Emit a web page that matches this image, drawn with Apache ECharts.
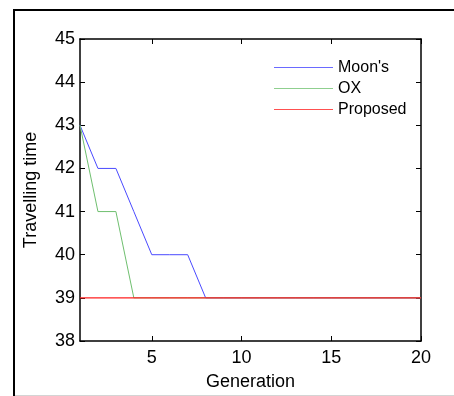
<!DOCTYPE html>
<html>
<head>
<meta charset="utf-8">
<script src="https://cdn.jsdelivr.net/npm/echarts@6/dist/echarts.min.js"></script>
<style>
  html, body { margin: 0; padding: 0; background: #fff; overflow: hidden; }
  #chart { position: absolute; left: 0; top: 0; width: 454px; height: 396px; }
</style>
</head>
<body>
<div id="chart"></div>
<script>
// 数据
const generations = [1, 2, 3, 4, 5, 6, 7, 8, 9, 10, 11, 12, 13, 14, 15, 16, 17, 18, 19, 20]
const moonValues = [43, 42, 42, 41, 40, 40, 40, 39, 39, 39, 39, 39, 39, 39, 39, 39, 39, 39, 39, 39]
const oxValues = [43, 41, 41, 39, 39, 39, 39, 39, 39, 39, 39, 39, 39, 39, 39, 39, 39, 39, 39, 39]
const proposedValues = [39, 39, 39, 39, 39, 39, 39, 39, 39, 39, 39, 39, 39, 39, 39, 39, 39, 39, 39, 39]
const xTicks = [5, 10, 15, 20]
const yTicks = [38, 39, 40, 41, 42, 43, 44, 45]

const font = 'Liberation Sans, Arial, sans-serif'
const pairs = vals => generations.map((g, i) => [g, vals[i]])
const legendLine = 'path://M0,6.5L59,6.5L59,7.7L0,7.7Z'

const chart = echarts.init(document.getElementById('chart'))

const tickStyle = { show: true, inside: true, length: 5, lineStyle: { color: '#000', width: 1 } }

chart.setOption({
  animation: false,
  backgroundColor: '#fff',
  // 外框
  graphic: [
    { type: 'rect', shape: { x: 13, y: 9, width: 441, height: 2 }, style: { fill: '#000' }, z: 100 },
    { type: 'rect', shape: { x: 13, y: 9, width: 2, height: 387 }, style: { fill: '#000' }, z: 100 },
    { type: 'rect', shape: { x: 15, y: 395, width: 439, height: 1 }, style: { fill: '#d4d4d4' }, z: 100 }
  ],
  grid: { left: 80, right: 33, top: 39, bottom: 52 },
  legend: {
    left: 269,
    top: 54,
    orient: 'vertical',
    itemWidth: 59,
    itemHeight: 14,
    itemGap: 4,
    textStyle: { fontFamily: font, fontSize: 16, color: '#000', lineHeight: 17 },
    data: [
      { name: "Moon's", icon: legendLine, itemStyle: { color: '#6a6aff' } },
      { name: 'OX', icon: legendLine, itemStyle: { color: '#8fcf8f' } },
      { name: 'Proposed', icon: legendLine, itemStyle: { color: '#ff5050' } }
    ]
  },
  xAxis: [
    {
      type: 'value',
      min: 1,
      max: 20,
      name: 'Generation',
      nameLocation: 'middle',
      nameGap: 32,
      nameTextStyle: { fontFamily: font, fontSize: 18, color: '#000' },
      axisLine: { show: true, lineStyle: { color: '#000', width: 1.5 } },
      axisTick: Object.assign({ customValues: xTicks }, tickStyle),
      axisLabel: { customValues: xTicks, fontFamily: font, fontSize: 18, color: '#000', margin: 8 },
      splitLine: { show: false }
    },
    {
      type: 'value',
      min: 1,
      max: 20,
      position: 'top',
      axisLine: { show: true, lineStyle: { color: '#000', width: 1.5 } },
      axisTick: Object.assign({ customValues: xTicks }, tickStyle),
      axisLabel: { show: false },
      splitLine: { show: false }
    }
  ],
  yAxis: [
    {
      type: 'value',
      min: 38,
      max: 45,
      interval: 1,
      name: 'Travelling time',
      nameLocation: 'middle',
      nameGap: 40,
      nameTextStyle: { fontFamily: font, fontSize: 18, color: '#000' },
      axisLine: { show: true, lineStyle: { color: '#000', width: 1.5 } },
      axisTick: Object.assign({ customValues: yTicks }, tickStyle),
      axisLabel: { customValues: yTicks, fontFamily: font, fontSize: 18, color: '#000', margin: 5 },
      splitLine: { show: false }
    },
    {
      type: 'value',
      min: 38,
      max: 45,
      interval: 1,
      position: 'right',
      axisLine: { show: true, lineStyle: { color: '#000', width: 1.5 } },
      axisTick: Object.assign({ customValues: yTicks }, tickStyle),
      axisLabel: { show: false },
      splitLine: { show: false }
    }
  ],
  series: [
    {
      name: "Moon's",
      type: 'line',
      data: pairs(moonValues),
      symbol: 'none',
      lineStyle: { color: '#4a4aff', width: 1 },
      itemStyle: { color: '#6a6aff' },
      z: 2
    },
    {
      name: 'OX',
      type: 'line',
      data: pairs(oxValues),
      symbol: 'none',
      lineStyle: { color: '#6fbf6f', width: 1 },
      itemStyle: { color: '#8fcf8f' },
      z: 3
    },
    {
      name: 'Proposed',
      type: 'line',
      data: pairs(proposedValues),
      symbol: 'none',
      lineStyle: { color: '#ff2020', width: 1.2 },
      itemStyle: { color: '#ff5050' },
      z: 4
    }
  ]
})
</script>
</body>
</html>
